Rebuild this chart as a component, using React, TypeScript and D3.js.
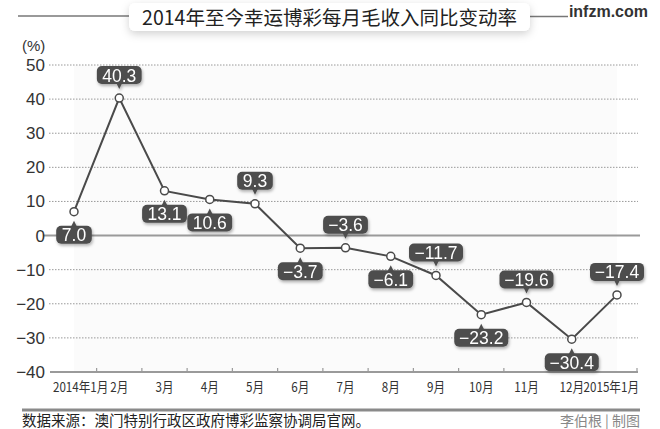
import React from "react";
import * as d3 from "d3";

const months = ["2014年1月", "2月", "3月", "4月", "5月", "6月", "7月", "8月", "9月", "10月", "11月", "12月", "2015年1月"];
const values = [7.0, 40.3, 13.1, 10.6, 9.3, -3.7, -3.6, -6.1, -11.7, -23.2, -19.6, -30.4, -17.4];
const labelSide = ["below", "above", "below", "below", "above", "below", "above", "below", "above", "below", "above", "below", "above"];
const yTicks = [50, 40, 30, 20, 10, 0, -10, -20, -30, -40];

const W = 660;
const H = 429;
const FONT = "'Liberation Sans', 'Noto Sans CJK SC', sans-serif";
const CJK = "'Noto Sans CJK SC', 'Liberation Sans', sans-serif";

const fmt = (v: number) => (v < 0 ? "\u2212" + Math.abs(v).toFixed(1) : v.toFixed(1));

export default function App() {
  const x = d3.scalePoint<number>().domain(d3.range(months.length)).range([74, 617]);
  const y = d3.scaleLinear().domain([-40, 50]).range([372, 65]);
  const step = x.step();
  const line = d3
    .line<number>()
    .x((_, i) => x(i)!)
    .y((d) => y(d));

  const tickXs = d3.range(months.length - 1).map((i) => x(i)! + step / 2);
  tickXs.push(637);

  return (
    <svg
      width={W}
      height={H}
      style={{ position: "absolute", left: 0, top: 0, background: "#fff" }}
    >
      <defs>
        <filter id="sh" x="-30%" y="-30%" width="160%" height="180%">
          <feDropShadow dx="1" dy="2" stdDeviation="1.5" floodColor="#000" floodOpacity="0.3" />
        </filter>
        <filter id="tsh" x="-10%" y="-30%" width="120%" height="190%">
          <feDropShadow dx="0" dy="3" stdDeviation="4" floodColor="#000" floodOpacity="0.18" />
        </filter>
      </defs>
      <rect width={W} height={H} fill="#fff" />

      {/* title */}
      <line x1={18} x2={130} y1={16} y2={16} stroke="#777" strokeWidth={1.5} />
      <line x1={528} x2={568} y1={16.5} y2={16.5} stroke="#777" strokeWidth={1.5} />
      <rect x={129} y={3} width={401} height={28} rx={6} fill="#fff" filter="url(#tsh)" />
      <text x={329.5} y={25} textAnchor="middle" fontFamily={CJK} fontSize={19.5} fill="#222">
        2014年至今幸运博彩每月毛收入同比变动率
      </text>
      <text x={648} y={17} textAnchor="end" fontFamily={FONT} fontWeight="bold" fontSize={16} fill="#333">
        infzm.com
      </text>

      {/* plot background */}
      <rect x={x(0)} y={y(50)} width={x(12)! - x(0)!} height={y(-40) - y(50)} fill="#fbfbfb" />

      {/* gridlines */}
      {yTicks.map((t) =>
        t === 0 || t === -40 ? null : (
          <line
            key={t}
            x1={49}
            x2={638}
            y1={y(t)}
            y2={y(t)}
            stroke="#999"
            strokeWidth={1}
            strokeDasharray="1.5,1.5"
          />
        )
      )}
      <line x1={43} x2={640} y1={y(0)} y2={y(0)} stroke="#9a9a9a" strokeWidth={2} />
      <line x1={50} x2={638} y1={y(-40)} y2={y(-40)} stroke="#9a9a9a" strokeWidth={2} />
      {tickXs.map((tx, i) => (
        <line key={i} x1={tx} x2={tx} y1={y(-40)} y2={y(-40) - 4} stroke="#9a9a9a" strokeWidth={1.2} />
      ))}

      {/* y labels */}
      <text x={22} y={51} fontFamily={FONT} fontSize={15} fill="#333">
        (%)
      </text>
      {yTicks.map((t) => (
        <text key={t} x={45} y={y(t) + 6} textAnchor="end" fontFamily={FONT} fontSize={17} fill="#333">
          {t < 0 ? "\u2212" + Math.abs(t) : t}
        </text>
      ))}

      {/* x labels */}
      {months.map((m, i) => {
        let anchor: "start" | "middle" | "end" = "middle";
        let tx = x(i)!;
        if (i === 0) {
          anchor = "start";
          tx = 53;
        } else if (i === months.length - 1) {
          anchor = "end";
          tx = 639;
        }
        return (
          <text
            key={m}
            transform={`translate(${tx},392) scale(0.86,1)`}
            textAnchor={anchor}
            fontFamily={CJK}
            fontSize={13.5}
            fill="#333"
          >
            {m}
          </text>
        );
      })}

      {/* line */}
      <path d={line(values) || ""} fill="none" stroke="#4a4a4a" strokeWidth={2} />
      {values.map((v, i) => (
        <circle key={i} cx={x(i)} cy={y(v)} r={4} fill="#fff" stroke="#4a4a4a" strokeWidth={1.5} />
      ))}

      {/* labels */}
      {values.map((v, i) => {
        const px = x(i)!;
        const py = y(v);
        const s = fmt(v);
        const w = s.length * 9.2 + 8;
        const h = 18;
        const above = labelSide[i] === "above";
        const cy = above ? py - 23 : py + 23;
        const tipY = above ? cy + h / 2 + 5 : cy - h / 2 - 5;
        const baseY = above ? cy + h / 2 - 1 : cy - h / 2 + 1;
        return (
          <g key={i} filter="url(#sh)">
            <rect x={px - w / 2} y={cy - h / 2} width={w} height={h} rx={5} fill="#4d4d4d" />
            <path d={`M${px - 3},${baseY} L${px + 3},${baseY} L${px},${tipY} Z`} fill="#4d4d4d" />
            <text x={px} y={cy + 6.5} textAnchor="middle" fontFamily={FONT} fontSize={17.5} fill="#fff">
              {s}
            </text>
          </g>
        );
      })}

      {/* footer */}
      <line x1={22} x2={640} y1={410} y2={410} stroke="#8a8a8a" strokeWidth={3} />
      <text x={22} y={426} fontFamily={CJK} fontSize={14.5} fill="#222">
        数据来源：澳门特别行政区政府博彩监察协调局官网。
      </text>
      <text x={640} y={426} textAnchor="end" fontFamily={CJK} fontSize={14} fill="#888">
        李伯根 | 制图
      </text>
    </svg>
  );
}
